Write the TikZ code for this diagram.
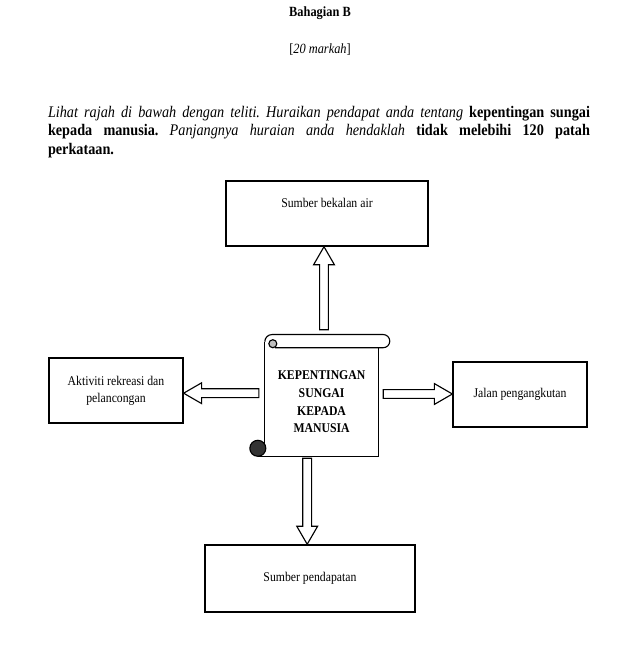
\documentclass[tikz,border=0pt]{standalone}
\usepackage{fontspec}
\setmainfont{Liberation Serif}[FakeStretch=0.88]
\usetikzlibrary{positioning,calc}
\frenchspacing

% hollow block arrow from #1 to #2
\newcommand{\fatarrow}[2]{%
  \coordinate (fa-base) at ($(#2)!0.45cm!(#1)$);
  \draw[fat] ($(#1)!0.11cm!90:(#2)$) -- ($(fa-base)!0.11cm!90:(#2)$) -- ($(fa-base)!0.26cm!90:(#2)$)
    -- (#2) -- ($(fa-base)!0.26cm!-90:(#2)$) -- ($(fa-base)!0.11cm!-90:(#2)$) -- ($(#1)!0.11cm!-90:(#2)$) -- cycle;}

\begin{document}
\begin{tikzpicture}[
  box/.style={rectangle, draw, line width=0.9pt, align=center, font=\fontsize{9.5}{12}\selectfont},
  scrolltext/.style={align=center, font=\fontsize{9.5}{12.6}\selectfont\bfseries},
  roll/.style={line width=0.8pt},
  fat/.style={draw, line width=0.8pt, fill=white, line join=miter},
]
\useasboundingbox (0,0) rectangle (15.825,-16.175);

% === Question ===
\node[font=\fontsize{10}{12}\selectfont\bfseries] (title) at (8.0,-0.33) {Bahagian B};
\node[font=\fontsize{10}{12}\selectfont] (marks) at (8.0,-1.25) {[\textit{20 markah}]};
\node[font=\fontsize{11.5}{13.2}\selectfont, text width=13.55cm, align=justify, inner sep=0pt] (task) at (7.975,-3.3)
  {\hyphenpenalty=10000
   \textit{Lihat rajah di bawah dengan teliti. Huraikan pendapat anda tentang} \textbf{kepentingan sungai}\linebreak
   \textbf{kepada manusia.} \textit{Panjangnya huraian anda hendaklah} \textbf{tidak melebihi 120 patah}\linebreak
   \textbf{perkataan.}};

% === Scroll ===
\node[scrolltext, minimum width=2.825cm, minimum height=2.7cm] (scroll) at (8.04,-10.05)
  {KEPENTINGAN\\SUNGAI\\KEPADA\\MANUSIA};
\draw[roll] ($(scroll.north west)+(0,0.15)$) arc[start angle=180, end angle=90, radius=0.18]
  -- ($(scroll.north east)+(0.12,0.33)$) arc[start angle=90, end angle=-90, radius=0.165]
  -- ($(scroll.north west)+(0.25,0)$);
\draw[roll] ($(scroll.north west)+(0,0.15)$) -- ($(scroll.south west)+(0,0.3)$);
\draw[roll] (scroll.north east) -- (scroll.south east) -- ($(scroll.south west)+(-0.175,0)$);
\draw[roll, fill=gray!50] ($(scroll.north west)+(0.2,0.1)$) circle (0.1);
\draw[roll, fill=gray!40!black] ($(scroll.south west)+(-0.175,0.2)$) circle (0.2);

% === Boxes ===
\node[box, minimum width=5.05cm, minimum height=1.625cm, text depth=0.55cm] (supply) at (8.175,-5.34) {Sumber bekalan air};
\node[box, minimum width=3.35cm, minimum height=1.625cm] (recreation) at (2.9,-9.76) {Aktiviti rekreasi dan\\pelancongan};
\node[box, minimum width=3.35cm, minimum height=1.625cm] (transport) at (13.0,-9.86) {Jalan pengangkutan};
\node[box, minimum width=5.25cm, minimum height=1.675cm] (income) at (7.75,-14.46) {Sumber pendapatan};

% === Arrows ===
\coordinate (up-tail) at ($(scroll.north)+(0.06,0.45)$);
\coordinate (up-tip) at (up-tail |- supply.south);
\coordinate (left-tail) at ($(scroll.west)+(-0.15,0.22)$);
\coordinate (left-tip) at (recreation.east |- left-tail);
\coordinate (right-tail) at ($(scroll.east)+(0.12,0.2)$);
\coordinate (right-tip) at (transport.west |- right-tail);
\coordinate (down-tail) at ($(scroll.south)+(-0.36,-0.05)$);
\coordinate (down-tip) at (down-tail |- income.north);

\fatarrow{up-tail}{up-tip}
\fatarrow{left-tail}{left-tip}
\fatarrow{right-tail}{right-tip}
\fatarrow{down-tail}{down-tip}

\end{tikzpicture}
\end{document}
